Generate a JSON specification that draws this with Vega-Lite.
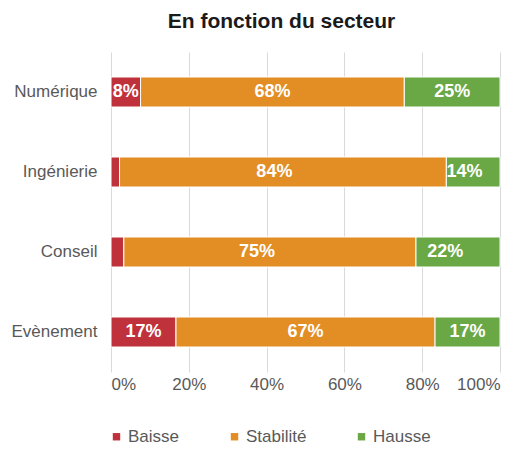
{
  "$schema": "https://vega.github.io/schema/vega-lite/v6.json",
  "autosize": "none",
  "width": 389,
  "height": 320,
  "padding": {"left": 111, "top": 52, "right": 29, "bottom": 78},
  "background": "white",
  "title": {
    "text": "En fonction du secteur",
    "font": "Liberation Sans",
    "fontSize": 21,
    "fontWeight": "bold",
    "color": "#1a1a1a",
    "anchor": "middle",
    "dx": -24,
    "offset": 20
  },
  "data": {
    "values": [
      {"secteur": "Numérique", "tendance": "Baisse", "ordre": 1, "v": 0.076},
      {"secteur": "Numérique", "tendance": "Stabilité", "ordre": 2, "v": 0.678},
      {"secteur": "Numérique", "tendance": "Hausse", "ordre": 3, "v": 0.246},
      {"secteur": "Ingénierie", "tendance": "Baisse", "ordre": 1, "v": 0.022},
      {"secteur": "Ingénierie", "tendance": "Stabilité", "ordre": 2, "v": 0.84},
      {"secteur": "Ingénierie", "tendance": "Hausse", "ordre": 3, "v": 0.138},
      {"secteur": "Conseil", "tendance": "Baisse", "ordre": 1, "v": 0.033},
      {"secteur": "Conseil", "tendance": "Stabilité", "ordre": 2, "v": 0.751},
      {"secteur": "Conseil", "tendance": "Hausse", "ordre": 3, "v": 0.216},
      {"secteur": "Evènement", "tendance": "Baisse", "ordre": 1, "v": 0.167},
      {"secteur": "Evènement", "tendance": "Stabilité", "ordre": 2, "v": 0.666},
      {"secteur": "Evènement", "tendance": "Hausse", "ordre": 3, "v": 0.167}
    ]
  },
  "encoding": {
    "y": {
      "field": "secteur",
      "type": "nominal",
      "sort": ["Numérique", "Ingénierie", "Conseil", "Evènement"],
      "scale": {"paddingInner": 0.625, "paddingOuter": 0.3125},
      "axis": {
        "title": null,
        "domain": false,
        "ticks": false,
        "grid": false,
        "labelFont": "Liberation Sans",
        "labelFontSize": 17,
        "labelColor": "#595959",
        "labelPadding": 14
      }
    },
    "x": {
      "field": "v",
      "type": "quantitative",
      "stack": "zero",
      "scale": {"domain": [0, 1], "nice": false},
      "axis": {
        "title": null,
        "format": ".0%",
        "values": [0, 0.2, 0.4, 0.6, 0.8, 1],
        "domain": false,
        "ticks": false,
        "grid": true,
        "gridColor": "#d9d9d9",
        "gridWidth": 1,
        "labelFont": "Liberation Sans",
        "labelFontSize": 17,
        "labelColor": "#595959",
        "labelPadding": 4
      }
    },
    "order": {"field": "ordre", "type": "quantitative"}
  },
  "layer": [
    {
      "mark": {"type": "bar", "stroke": "white", "strokeWidth": 1},
      "encoding": {
        "color": {
          "field": "tendance",
          "type": "nominal",
          "sort": ["Baisse", "Stabilité", "Hausse"],
          "scale": {"domain": ["Baisse", "Stabilité", "Hausse"], "range": ["#c0323b", "#e38d25", "#6aa845"]},
          "legend": {
            "title": null,
            "orient": "none",
            "direction": "horizontal",
            "legendX": -3,
            "legendY": 376,
            "symbolType": "square",
            "symbolSize": 55,
            "symbolStrokeWidth": 0,
            "labelFont": "Liberation Sans",
            "labelFontSize": 17,
            "labelColor": "#595959",
            "labelOffset": 3,
            "columnPadding": 46
          }
        }
      }
    },
    {
      "transform": [{"filter": "datum.v >= 0.05"}],
      "mark": {
        "type": "text",
        "font": "Liberation Sans",
        "fontSize": 18,
        "fontWeight": "bold",
        "color": "white",
        "align": "center",
        "baseline": "middle"
      },
      "encoding": {
        "x": {"field": "v", "type": "quantitative", "stack": "zero", "bandPosition": 0.5},
        "text": {"field": "v", "type": "quantitative", "format": ".0%"}
      }
    }
  ],
  "config": {"view": {"stroke": null}}
}
